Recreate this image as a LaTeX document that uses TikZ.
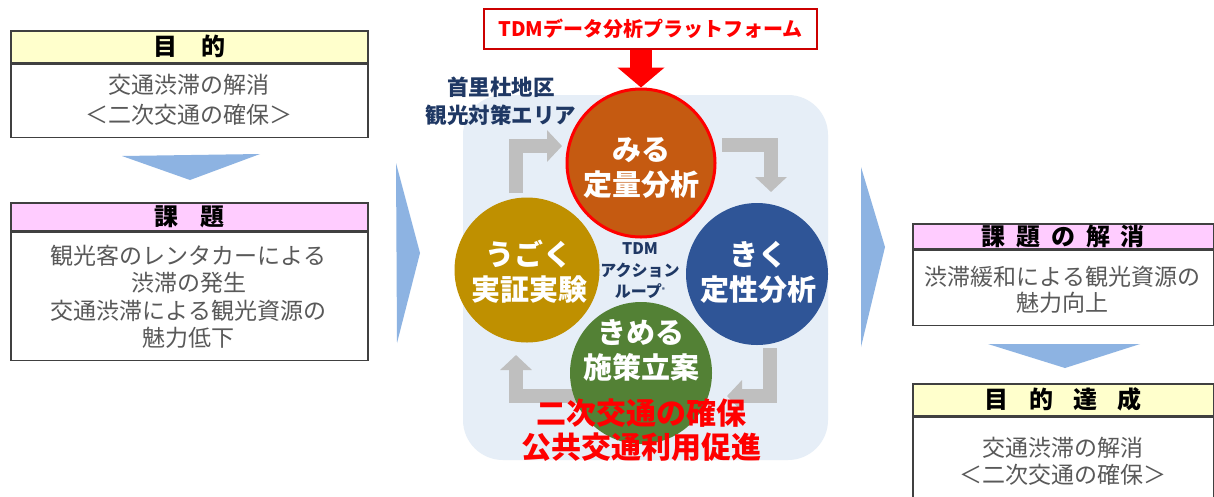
\documentclass[tikz,border=0pt]{standalone}
\usepackage{fontspec}
\setmainfont{Noto Sans CJK JP}
\usetikzlibrary{arrows.meta}
\definecolor{hy}{HTML}{FFFFCC}
\definecolor{hp}{HTML}{FFCCFF}
\definecolor{bd}{HTML}{404040}
\definecolor{tx}{HTML}{595959}
\definecolor{ba}{HTML}{8DB3E2}
\definecolor{bg}{HTML}{E6EEF7}
\definecolor{ga}{HTML}{BFBFBF}
\definecolor{cmiru}{HTML}{C55A11}
\definecolor{cgold}{HTML}{BF9000}
\definecolor{cblue}{HTML}{2F5597}
\definecolor{cgreen}{HTML}{538135}
\definecolor{navy}{HTML}{1F3864}
\definecolor{rtx}{HTML}{FF0000}
\tikzset{
  hdr/.style={draw=bd, line width=1.5pt, inner sep=0pt, anchor=north west,
    font=\fontsize{24}{28}\selectfont\bfseries, text=black},
  bodybox/.style={draw=bd, line width=1.5pt, fill=white, inner sep=0pt, anchor=north},
  btext/.style={align=center, text=tx, inner sep=0pt},
  chev/.style={fill=ba},
  garrow/.style={draw=ga, line width=14pt, line join=miter, -{Triangle[width=31pt,length=15pt]}},
  disc/.style={circle, inner sep=0pt, minimum size=#1},
  ctext/.style={align=center, text=white, inner sep=0pt, font=\fontsize{29}{35}\selectfont\bfseries},
}
\begin{document}
\begin{tikzpicture}[x=1pt,y=-1pt]
\useasboundingbox (0,0) rectangle (1214,496);
\fill[white] (0,0) rectangle (1214,496);

% ---------- left column ----------
\node[hdr, fill=hy, minimum width=357, minimum height=32] (h1) at (10,30) {目\hspace{1em}的};
\node[bodybox, minimum width=357, minimum height=73] (b1) at (h1.south) {};
\node[btext, font=\fontsize{23}{30}\selectfont] (t1) at (188.5,100) {交通渋滞の解消\\＜二次交通の確保＞};

\fill[chev] (122,156) -- (260,154) -- (190,180) -- cycle;

\node[hdr, fill=hp, minimum width=357, minimum height=28] (h2) at (10,202) {課\hspace{0.9em}題};
\node[bodybox, minimum width=357, minimum height=128] (b2) at (h2.south) {};
\node[btext, font=\fontsize{23}{27.5}\selectfont] (t2) at (188.5,297) {観光客のレンタカーによる\\渋滞の発生\\交通渋滞による観光資源の\\魅力低下};

% big chevrons
\fill[chev] (396,163) -- (420,253) -- (397,343) -- cycle;
\fill[chev] (861,167) -- (885,247) -- (861,347) -- cycle;

% ---------- centre ----------
\fill[bg, rounded corners=40pt] (463,95) rectangle (828,460);

\node[draw=red!80!black, line width=1.2pt, fill=white, minimum width=333, minimum height=40, inner sep=0pt,
  text=rtx, font=\fontsize{20}{24}\selectfont\bfseries] (title) at (650.5,29) {TDMデータ分析プラットフォーム};

\node[align=center, text=navy, inner sep=0pt, font=\fontsize{21.5}{28}\selectfont\bfseries] (area) at (501,101) {首里杜地区\\観光対策エリア};

% loop arrows
\coordinate (a1s) at (516,193); \coordinate (a1m) at (516,146); \coordinate (a1e) at (562,146);
\coordinate (a2s) at (722,145); \coordinate (a2m) at (771,145); \coordinate (a2e) at (771,192);
\coordinate (a3s) at (770,348); \coordinate (a3m) at (770,396); \coordinate (a3e) at (727,396);
\coordinate (a4s) at (600,396); \coordinate (a4m) at (516,396); \coordinate (a4e) at (516,355);
\draw[garrow] (a1s) -- (a1m) -- (a1e);
\draw[garrow] (a2s) -- (a2m) -- (a2e);
\draw[garrow] (a3s) -- (a3m) -- (a3e);
\draw[garrow] (a4s) -- (a4m) -- (a4e);

\node[disc=148, fill=cmiru, draw=red, line width=3pt] (miru) at (641,163) {};
\node[disc=145, fill=cgold] (ugoku) at (527,270) {};
\node[disc=142, fill=cblue] (kiku) at (757,274) {};
\node[disc=142, fill=cgreen] (kimeru) at (641,373) {};

\draw[draw=red, line width=22pt, -{Triangle[width=46pt,length=20pt]}] (miru.north |- title.south) -- (miru.north);

\node[ctext] (miruT) at (641,168) {みる\\定量分析};
\node[ctext] (ugokuT) at (529,272) {うごく\\実証実験};
\node[ctext] (kikuT) at (758,272) {きく\\定性分析};
\node[ctext] (kimeruT) at (641,350) {きめる\\施策立案};

\node[align=center, text=navy, inner sep=0pt, font=\fontsize{16}{21.5}\selectfont\bfseries] (loop) at (640,271)
  {TDM\\アクション\\ループ\raisebox{0.6ex}{\fontsize{6}{6}\selectfont ®}};

\node[align=center, text=rtx, inner sep=0pt, font=\fontsize{30}{34}\selectfont\bfseries] (goal) at (641,430)
  {二次交通の確保\\公共交通利用促進};

% ---------- right column ----------
\node[hdr, fill=hp, minimum width=301, minimum height=25] (h3) at (912,223) {課\hspace{0.45em}題\hspace{0.45em}の\hspace{0.45em}解\hspace{0.45em}消};
\node[bodybox, minimum width=301, minimum height=75] (b3) at (h3.south) {};
\node[btext, font=\fontsize{23}{26.5}\selectfont] (t3) at (1062.5,290) {渋滞緩和による観光資源の\\魅力向上};

\fill[chev] (988,344) -- (1140,344) -- (1065,368) -- cycle;

\node[hdr, fill=hy, minimum width=301, minimum height=32] (h4) at (912,383) {目\hspace{0.85em}的\hspace{0.85em}達\hspace{0.85em}成};
\node[bodybox, minimum width=301, minimum height=100] (b4) at (h4.south) {};
\node[btext, font=\fontsize{23}{27}\selectfont] (t4) at (1062.5,461.5) {交通渋滞の解消\\＜二次交通の確保＞};
\end{tikzpicture}
\end{document}
